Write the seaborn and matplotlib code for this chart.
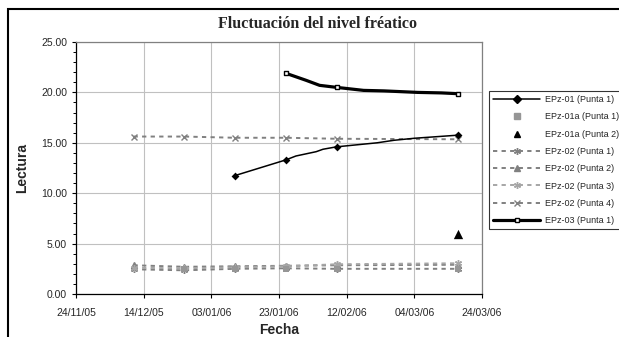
import matplotlib
matplotlib.use("Agg")
import matplotlib.pyplot as plt
import matplotlib.dates as mdates
from matplotlib.lines import Line2D
from matplotlib.patches import Rectangle
from matplotlib.ticker import MultipleLocator, FormatStrFormatter
import seaborn as sns
import pandas as pd

# ---------------- data ----------------
marker_dates = ["2005-12-11", "2005-12-26", "2006-01-10", "2006-01-25", "2006-02-09", "2006-03-17"]

epz01_dates = ["2006-01-10", "2006-01-25", "2006-01-28", "2006-02-03", "2006-02-05",
               "2006-02-09", "2006-02-21", "2006-02-26", "2006-03-04", "2006-03-17"]
epz01_vals = [11.75, 13.30, 13.69, 14.12, 14.36, 14.60, 15.00, 15.25, 15.45, 15.76]
epz01_mark_dates = ["2006-01-10", "2006-01-25", "2006-02-09", "2006-03-17"]
epz01_mark_vals = [11.75, 13.30, 14.60, 15.76]

epz01a_p1_dates = ["2005-12-26", "2006-01-10", "2006-01-25", "2006-02-09", "2006-03-17"]
epz01a_p1_vals = [2.45, 2.50, 2.50, 2.50, 2.50]
epz01a_p2_dates = ["2006-03-17"]
epz01a_p2_vals = [5.98]

epz02_p1_vals = [2.45, 2.35, 2.50, 2.55, 2.50, 2.50]
epz02_p2_vals = [2.85, 2.70, 2.75, 2.80, 2.85, 2.90]
epz02_p3_vals = [2.60, 2.55, 2.65, 2.75, 2.95, 3.05]
epz02_p4_vals = [15.62, 15.62, 15.50, 15.50, 15.40, 15.35]

epz03_dates = ["2006-01-25", "2006-01-31", "2006-02-04", "2006-02-09", "2006-02-17",
               "2006-02-23", "2006-03-05", "2006-03-12", "2006-03-17"]
epz03_vals = [21.90, 21.20, 20.70, 20.50, 20.20, 20.15, 20.00, 19.95, 19.87]
epz03_mark_dates = ["2006-01-25", "2006-02-09", "2006-03-17"]
epz03_mark_vals = [21.90, 20.50, 19.87]

legend_labels = ["EPz-01 (Punta 1)", "EPz-01a (Punta 1)", "EPz-01a (Punta 2)",
                 "EPz-02 (Punta 1)", "EPz-02 (Punta 2)", "EPz-02 (Punta 3)",
                 "EPz-02 (Punta 4)", "EPz-03 (Punta 1)"]

title_text = "Fluctuación del nivel fréatico"
x_title = "Fecha"
y_title = "Lectura"
x_start, x_end = "2005-11-24", "2006-03-24"

# ---------------- style ----------------
sns.set_theme(style="white")
plt.rcParams['font.family'] = ['Liberation Sans', 'DejaVu Sans']

D = lambda l: pd.to_datetime(l)

fig = plt.figure(figsize=(6.19, 3.37), dpi=100)
ax = fig.add_axes([76 / 619, 1 - 294 / 337, (482 - 76) / 619, (294 - 42) / 337])

dash = (0, (2.2, 2.2))
ast = (6, 2, 0)
grey = "#808080"
lgrey = "#a6a6a6"

# EPz-02 dashed series
series02 = [
    (epz02_p1_vals, grey, ast, 5),
    (epz02_p2_vals, grey, "^", 4),
    (epz02_p3_vals, lgrey, ast, 5),
    (epz02_p4_vals, grey, "x", 4),
]
for vals, col, mk, ms in series02:
    sns.lineplot(x=D(marker_dates), y=vals, ax=ax, color=col, lw=1.4,
                 linestyle=dash, marker=mk, markersize=ms, mec=col, mfc=col,
                 mew=1.0, zorder=3)

# EPz-01a points
sns.scatterplot(x=D(epz01a_p1_dates), y=epz01a_p1_vals, ax=ax, marker="s", s=18,
                color="#969696", edgecolor="#969696", linewidth=0, zorder=4)
sns.scatterplot(x=D(epz01a_p2_dates), y=epz01a_p2_vals, ax=ax, marker="^", s=45,
                color="black", edgecolor="black", linewidth=0, zorder=4)

# EPz-01
sns.lineplot(x=D(epz01_dates), y=epz01_vals, ax=ax, color="black", lw=1.1, zorder=5)
sns.scatterplot(x=D(epz01_mark_dates), y=epz01_mark_vals, ax=ax, marker="D", s=16,
                color="black", edgecolor="black", linewidth=0, zorder=6)

# EPz-03
sns.lineplot(x=D(epz03_dates), y=epz03_vals, ax=ax, color="black", lw=2.3, zorder=5)
sns.scatterplot(x=D(epz03_mark_dates), y=epz03_mark_vals, ax=ax, marker="s", s=9,
                color="white", edgecolor="black", linewidth=1.0, zorder=6)

# ---------------- axes ----------------
ax.set_xlim(pd.Timestamp(x_start), pd.Timestamp(x_end))
ax.set_ylim(0, 25)
xticks = pd.date_range(x_start, x_end, freq="20D")
ax.set_xticks(xticks)
ax.xaxis.set_major_formatter(mdates.DateFormatter("%d/%m/%y"))
ax.yaxis.set_major_locator(MultipleLocator(5))
ax.yaxis.set_minor_locator(MultipleLocator(1))
ax.yaxis.set_major_formatter(FormatStrFormatter("%.2f"))

ax.grid(True, which="major", color="#c0c0c0", lw=0.8)
ax.set_axisbelow(True)
for s in ["top", "right"]:
    ax.spines[s].set_color("#808080")
    ax.spines[s].set_linewidth(0.9)
for s in ["left", "bottom"]:
    ax.spines[s].set_color("black")
    ax.spines[s].set_linewidth(0.9)

ax.tick_params(axis="x", which="major", direction="out", length=3, width=0.8,
               color="black", pad=7, labelsize=7.5, bottom=True)
ax.tick_params(axis="y", which="major", direction="out", length=3, width=0.8,
               color="black", pad=3.5, labelsize=7.5, left=True)
ax.tick_params(axis="y", which="minor", direction="out", length=2, width=0.7,
               color="black", left=True)

ax.set_xlabel(x_title, fontsize=10, fontweight="bold")
ax.set_ylabel(y_title, fontsize=10, fontweight="bold")
ax.xaxis.set_label_coords(0.5, -(330 - 294) / 252)
ax.xaxis.label.set_va("center")
ax.yaxis.set_label_coords(-(76 - 22) / 406, 0.5)
ax.yaxis.label.set_va("center")

fig.text(317 / 619, 1 - 24 / 337, title_text, ha="center", va="center",
         fontsize=11.5, fontweight="bold", family=["Liberation Serif", "DejaVu Serif"])

# ---------------- legend ----------------
handles = [
    Line2D([], [], color="black", lw=1.1, marker="D", markersize=4, mfc="black", mec="black"),
    Line2D([], [], color="none", marker="s", markersize=4, mfc="#969696", mec="#969696", lw=0),
    Line2D([], [], color="none", marker="^", markersize=5, mfc="black", mec="black", lw=0),
    Line2D([], [], color=grey, lw=1.4, linestyle=dash, marker=ast, markersize=5, mec=grey, mfc=grey),
    Line2D([], [], color=grey, lw=1.4, linestyle=dash, marker="^", markersize=4, mec=grey, mfc=grey),
    Line2D([], [], color=lgrey, lw=1.4, linestyle=dash, marker=ast, markersize=5, mec=lgrey, mfc=lgrey),
    Line2D([], [], color=grey, lw=1.4, linestyle=dash, marker="x", markersize=4, mec=grey, mfc=grey),
    Line2D([], [], color="black", lw=2.3, marker="s", markersize=3.2, mfc="white", mec="black"),
]
leg = fig.legend(handles, legend_labels, loc="upper left",
                 bbox_to_anchor=(489 / 619, 1 - 91 / 337), borderaxespad=0,
                 frameon=True, fancybox=False, edgecolor="black", fontsize=6.5,
                 handlelength=5.2, handletextpad=0.55, labelspacing=0.92,
                 borderpad=0.45)
leg.get_frame().set_linewidth(0.8)

# outer chart frame
fig.patches.append(Rectangle((8 / 619, -0.2), 1.5, 1.2 - 9 / 337, transform=fig.transFigure,
                             fill=False, ec="black", lw=1.5, zorder=0))

fig.savefig("out.png", dpi=100)
